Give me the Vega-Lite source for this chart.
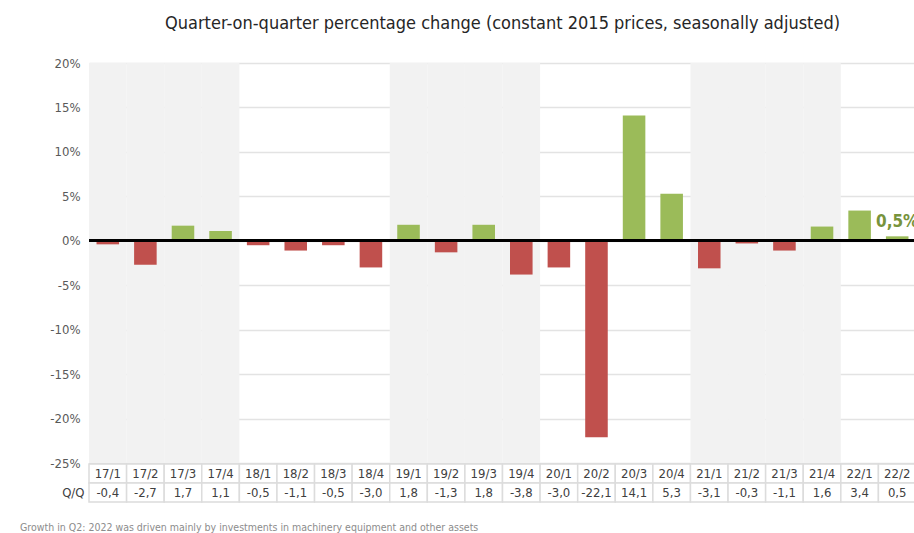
{
  "$schema": "https://vega.github.io/schema/vega-lite/v6.json",
  "padding": {"left": 20, "top": 14, "right": 0, "bottom": 0},
  "background": "white",
  "bounds": "flush",
  "spacing": 1,
  "config": {
    "locale": {"number": {"decimal": ",", "thousands": ".", "grouping": [3], "currency": ["", ""], "minus": "-"}},
    "font": "Liberation Sans Narrow, DejaVu Sans Condensed, Arial Narrow, Liberation Sans",
    "view": {"stroke": null}
  },
  "data": {
    "values": [
      {"q": "17/1", "yr": "17", "v": -0.4},
      {"q": "17/2", "yr": "17", "v": -2.7},
      {"q": "17/3", "yr": "17", "v": 1.7},
      {"q": "17/4", "yr": "17", "v": 1.1},
      {"q": "18/1", "yr": "18", "v": -0.5},
      {"q": "18/2", "yr": "18", "v": -1.1},
      {"q": "18/3", "yr": "18", "v": -0.5},
      {"q": "18/4", "yr": "18", "v": -3.0},
      {"q": "19/1", "yr": "19", "v": 1.8},
      {"q": "19/2", "yr": "19", "v": -1.3},
      {"q": "19/3", "yr": "19", "v": 1.8},
      {"q": "19/4", "yr": "19", "v": -3.8},
      {"q": "20/1", "yr": "20", "v": -3.0},
      {"q": "20/2", "yr": "20", "v": -22.1},
      {"q": "20/3", "yr": "20", "v": 14.1},
      {"q": "20/4", "yr": "20", "v": 5.3},
      {"q": "21/1", "yr": "21", "v": -3.1},
      {"q": "21/2", "yr": "21", "v": -0.3},
      {"q": "21/3", "yr": "21", "v": -1.1},
      {"q": "21/4", "yr": "21", "v": 1.6},
      {"q": "22/1", "yr": "22", "v": 3.4},
      {"q": "22/2", "yr": "22", "v": 0.5}
    ]
  },
  "vconcat": [
    {
      "width": 827,
      "height": 400,
      "view": {"stroke": "#d9d9d9"},
      "title": {"text": "Quarter-on-quarter percentage change (constant 2015 prices, seasonally adjusted)", "anchor": "middle", "frame": "group", "fontSize": 18, "fontWeight": "normal", "color": "#262626", "offset": 24},
      "layer": [
        {
          "transform": [{"filter": "indexof(['17','19','21'], datum.yr) >= 0"}],
          "mark": {"type": "rect", "color": "#f2f2f2"},
          "encoding": {
            "x": {"field": "q", "type": "nominal", "scale": {"domain": ["17/1","17/2","17/3","17/4","18/1","18/2","18/3","18/4","19/1","19/2","19/3","19/4","20/1","20/2","20/3","20/4","21/1","21/2","21/3","21/4","22/1","22/2"], "paddingInner": 0, "paddingOuter": 0}, "axis": null}
          }
        },
        {
          "mark": {"type": "bar", "width": {"band": 0.6}},
          "encoding": {
            "x": {"field": "q", "type": "nominal", "axis": null},
            "y": {"field": "v", "type": "quantitative", "scale": {"domain": [-25, 20], "nice": false, "zero": false},
              "axis": {"title": null, "values": [-25,-20,-15,-10,-5,0,5,10,15,20], "labelExpr": "datum.value + '%'", "ticks": false, "domain": false, "labelPadding": 9, "labelFontSize": 13, "labelColor": "#595959", "gridColor": "#e3e3e3", "gridWidth": 1.5}},
            "color": {"condition": {"test": "datum.v < 0", "value": "#c0504d"}, "value": "#9bbb59"}
          }
        },
        {
          "mark": {"type": "rule", "color": "black", "strokeWidth": 2.5},
          "encoding": {"y": {"datum": 0, "type": "quantitative"}}
        },
        {
          "transform": [{"filter": "datum.q == '22/2'"}, {"calculate": "replace(format(datum.v, '.1f'), '.', ',') + '%'", "as": "lbl"}],
          "mark": {"type": "text", "baseline": "bottom", "dy": -5, "fontSize": 17, "fontWeight": "bold", "color": "#77933c"},
          "encoding": {
            "x": {"field": "q", "type": "nominal"},
            "y": {"field": "v", "type": "quantitative"},
            "text": {"field": "lbl"}
          }
        }
      ]
    },
    {
      "width": 827,
      "height": 38,
      "title": {"text": "Growth in Q2: 2022 was driven mainly by investments in machinery equipment and other assets", "orient": "bottom", "anchor": "start", "frame": "group", "dx": -69, "offset": 20, "fontSize": 10.5, "fontWeight": "normal", "color": "#8c8c8c"},
      "encoding": {
        "x": {"field": "q", "type": "nominal", "scale": {"domain": ["17/1","17/2","17/3","17/4","18/1","18/2","18/3","18/4","19/1","19/2","19/3","19/4","20/1","20/2","20/3","20/4","21/1","21/2","21/3","21/4","22/1","22/2"], "paddingInner": 0, "paddingOuter": 0}, "axis": null}
      },
      "layer": [
        {
          "mark": {"type": "rect", "fill": "white", "stroke": "#dcdcdc", "strokeWidth": 1.5},
          "encoding": {"y": {"datum": "hdr", "type": "nominal", "scale": {"domain": ["hdr", "qq"], "paddingInner": 0, "paddingOuter": 0},
            "axis": {"title": null, "ticks": false, "domain": false, "labelExpr": "datum.value == 'qq' ? 'Q/Q' : ''", "labelPadding": 5, "labelFontSize": 13, "labelColor": "#404040"}}}
        },
        {
          "mark": {"type": "rect", "fill": "white", "stroke": "#dcdcdc", "strokeWidth": 1.5},
          "encoding": {"y": {"datum": "qq", "type": "nominal"}}
        },
        {
          "mark": {"type": "text", "fontSize": 13, "color": "#404040"},
          "encoding": {"y": {"datum": "hdr", "type": "nominal"}, "text": {"field": "q"}}
        },
        {
          "mark": {"type": "text", "fontSize": 13, "color": "#404040"},
          "encoding": {"y": {"datum": "qq", "type": "nominal"}, "text": {"field": "v", "type": "quantitative", "format": ".1f"}}
        }
      ]
    }
  ]
}
